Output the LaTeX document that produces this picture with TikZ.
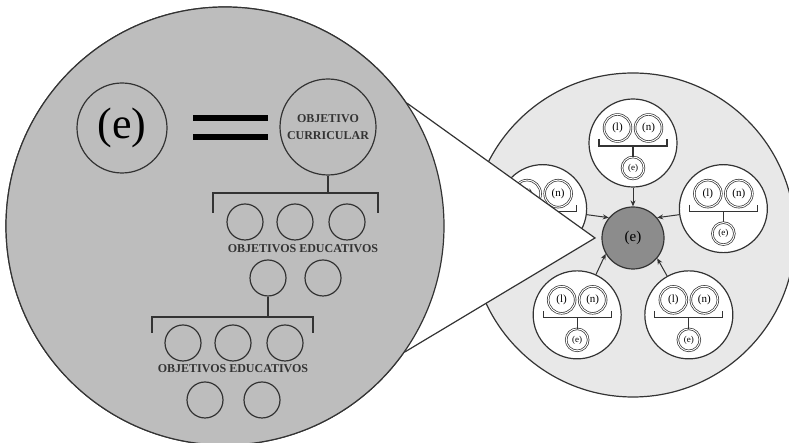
\documentclass[tikz,border=0pt]{standalone}
\usepackage{fontspec}
\setmainfont{Liberation Serif}
\usepackage{tikz}
\usetikzlibrary{arrows.meta,calc}
\definecolor{lensgray}{gray}{0.74}
\definecolor{worldgray}{gray}{0.91}
\definecolor{coregray}{gray}{0.55}
\definecolor{ink}{gray}{0.2}
\begin{document}
\begin{tikzpicture}[x=1pt,y=1pt,>={Stealth[length=6pt,width=5pt]},
  line/.style={draw=ink,line width=1.2pt},
  lens/.style={circle,draw=ink,line width=1.2pt,fill=lensgray,minimum size=438pt,inner sep=0pt},
  world/.style={circle,draw=ink,line width=1.2pt,fill=worldgray,minimum size=324pt,inner sep=0pt},
  core/.style={circle,draw=ink,line width=1.2pt,fill=coregray,minimum size=62pt,inner sep=0pt,font=\fontsize{15}{17}\selectfont},
  sub/.style={circle,draw=ink,line width=1.2pt,fill=white,minimum size=88pt,inner sep=0pt},
  tag/.style={circle,draw=ink,double=white,double distance=1pt,line width=0.7pt,fill=white,minimum size=27pt,inner sep=0pt,font=\fontsize{11}{12}\selectfont},
  big/.style={circle,draw=ink,line width=1.2pt,minimum size=90pt,inner sep=0pt,font=\fontsize{44}{48}\selectfont},
  goal/.style={circle,draw=ink,line width=1.2pt,minimum size=96pt,inner sep=0pt,align=center,text=ink,font=\fontsize{12}{17}\selectfont\bfseries},
  obj/.style={circle,draw=ink,line width=1.2pt,minimum size=36pt,inner sep=0pt},
  lbl/.style={text=ink,inner sep=0pt,font=\fontsize{12}{14}\selectfont\bfseries},
  bar/.style={draw=black,line width=6pt}]
\useasboundingbox (0,0) rectangle (789,443);
\clip (0,0) rectangle (789,443);
\node[world] (world) at (633,208) {};
\node[core] (core) at (633,205) {(e)};
\foreach \i/\a/\t in {1/90/90,2/18/40,3/-54/-40,4/-126/210,5/162/140}{
  \node[sub] (u\i) at ($(core)+(\a:95)$) {};
  \begin{scope}[shift={(u\i)}]
    \node[tag] (l\i) at (-15.5,15) {(l)};
    \node[tag] (n\i) at (15.5,15) {(n)};
    \node[tag,minimum size=22pt,font=\fontsize{9}{10}\selectfont] (e\i) at (0,-25) {(e)};
    \coordinate (k\i) at (0,-3);
    \draw[line] (-34,4) |- (34,-3) -- (34,4);
    \draw[line] (k\i) -- (e\i);
  \end{scope}
  \draw[->,draw=ink,line width=1pt] (u\i) -- (core.\t);
}
\node[lens] (lens) at (225,217) {};
\coordinate (apex) at (595,205);
\fill[white] (lens.center) -- (lens.34) -- (apex) -- (lens.-35) -- cycle;
\draw[line] (lens.34) -- (apex) -- (lens.-35);
\node[lens] at (lens) {};
\node[big] (e) at (122,315) {(e)};
\draw[bar] (193,325) -- (268,325);
\draw[bar] (193,306) -- (268,306);
\node[goal] (curr) at (328,316) {OBJETIVO\\CURRICULAR};
\node[obj] (a1) at (245,221) {};
\node[obj] (a2) at (295,221) {};
\node[obj] (a3) at (347,221) {};
\coordinate (k6) at (296,250);
\draw[line] (213,230) |- (378,250) -- (378,230);
\draw[line] (curr) -- (curr |- k6);
\node[lbl] (t1) at (303,194) {OBJETIVOS EDUCATIVOS};
\node[obj] (b1) at (268,165) {};
\node[obj] (b2) at (323,165) {};
\coordinate (k7) at (232,126);
\draw[line] (152,110) |- (313,126) -- (313,110);
\draw[line] (b1) -- (b1 |- k7);
\node[obj] (c1) at (183,100) {};
\node[obj] (c2) at (233,100) {};
\node[obj] (c3) at (285,100) {};
\node[lbl] (t2) at (233,74) {OBJETIVOS EDUCATIVOS};
\node[obj] (d1) at (205,43) {};
\node[obj] (d2) at (262,43) {};
\end{tikzpicture}
\end{document}
